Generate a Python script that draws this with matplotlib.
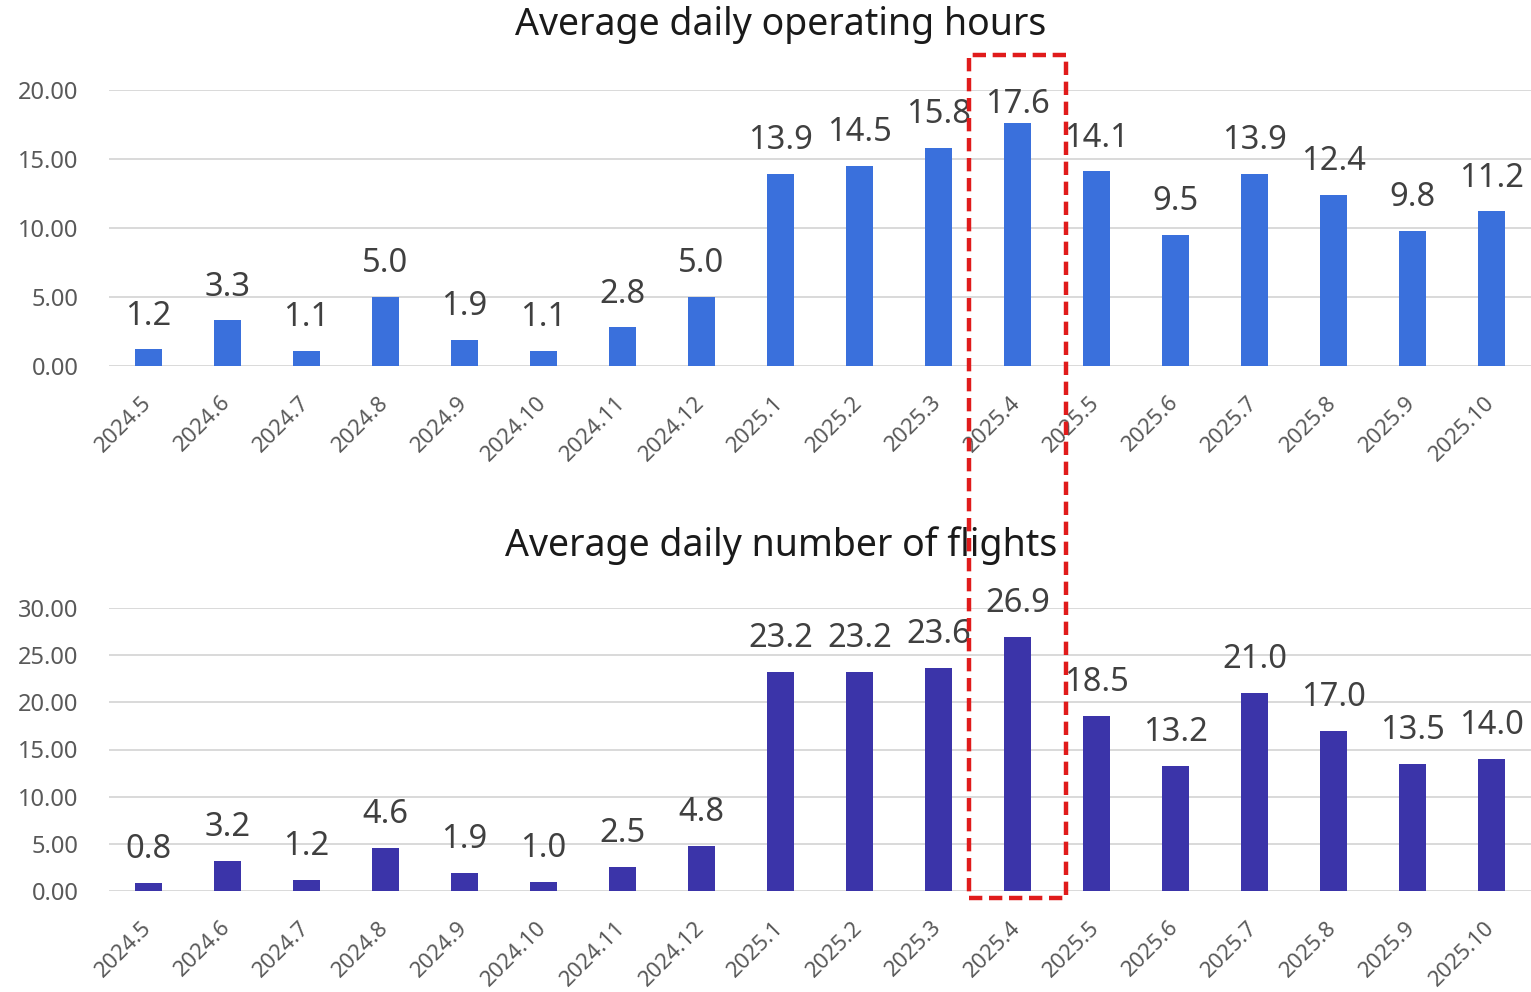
"""
Average daily operating hours / number of flights, monthly bars with the
2025.4 column highlighted by a dashed red box.
"""

import matplotlib
matplotlib.use('Agg')
import matplotlib.pyplot as plt
from matplotlib.patches import Rectangle
from matplotlib.transforms import blended_transform_factory

months = ['2024.5', '2024.6', '2024.7', '2024.8', '2024.9', '2024.10',
          '2024.11', '2024.12', '2025.1', '2025.2', '2025.3', '2025.4',
          '2025.5', '2025.6', '2025.7', '2025.8', '2025.9', '2025.10']
hours = [1.2, 3.3, 1.1, 5.0, 1.9, 1.1, 2.8, 5.0, 13.9, 14.5, 15.8, 17.6,
         14.1, 9.5, 13.9, 12.4, 9.8, 11.2]
flights = [0.8, 3.2, 1.2, 4.6, 1.9, 1.0, 2.5, 4.8, 23.2, 23.2, 23.6, 26.9,
           18.5, 13.2, 21.0, 17.0, 13.5, 14.0]
highlight = '2025.4'

FONT = ['Noto Sans', 'DejaVu Sans']
plt.rcParams['font.family'] = FONT

W, H = 1531, 992
fig = plt.figure(figsize=(W / 100, H / 100), dpi=100)
fig.patch.set_facecolor('white')


def px_box(left, top, right, bottom):
    """Pixel box -> figure fraction [l, b, w, h]."""
    return [left / W, 1 - bottom / H, (right - left) / W, (bottom - top) / H]


def draw_panel(ax, values, color, ymax, step, label_off, label_cap):
    x = range(len(months))
    ax.bar(x, values, width=0.33, color=color, zorder=3)
    ax.set_xlim(-0.5, len(months) - 0.5)
    ax.set_ylim(0, ymax)
    ticks = [i * step for i in range(int(ymax / step) + 1)]
    ax.set_yticks(ticks)
    ax.set_yticklabels([f'{t:.2f}' for t in ticks])
    ax.yaxis.grid(True, color='#d9d9d9', linewidth=1.4, zorder=0)
    ax.set_axisbelow(True)
    for s in ax.spines.values():
        s.set_visible(False)
    ax.tick_params(axis='y', length=0, pad=22, labelsize=17, labelcolor='#595959')
    ax.tick_params(axis='x', length=0, pad=24, labelsize=16, labelcolor='#595959')
    ax.set_xticks(list(x))
    ax.set_xticklabels(months, rotation=45, ha='right', va='center',
                       rotation_mode='anchor')
    for i, v in enumerate(values):
        y = min(v + label_off, label_cap)
        ax.text(i, y, f'{v:.1f}', ha='center', va='baseline', fontsize=23.5,
                color='#404040', zorder=4)


ax1 = fig.add_axes(px_box(109, 90, 1531, 366))
draw_panel(ax1, hours, '#3a70dc', 20, 5, 1.8, 18.35)

ax2 = fig.add_axes(px_box(109, 608, 1531, 891))
draw_panel(ax2, flights, '#3b34a9', 30, 5, 2.65, 29.6)

fig.text(781 / W, 1 - 25 / H, 'Average daily operating hours', ha='center',
         va='center', fontsize=27, color='#1a1a1a')
fig.text(781 / W, 1 - 546 / H, 'Average daily number of flights', ha='center',
         va='center', fontsize=27, color='#1a1a1a')

# dashed highlight box around the selected month, spanning both panels
idx = months.index(highlight)
trans = blended_transform_factory(ax1.transData, fig.transFigure)
box = Rectangle((idx - 0.61, 1 - 898 / H), 1.22, (898 - 55) / H,
                transform=trans, fill=False, edgecolor='#e01b1b',
                linewidth=3.2, linestyle=(0, (3, 1.5)), clip_on=False, zorder=10)
fig.add_artist(box)

fig.savefig('out.png', dpi=100, facecolor='white')
